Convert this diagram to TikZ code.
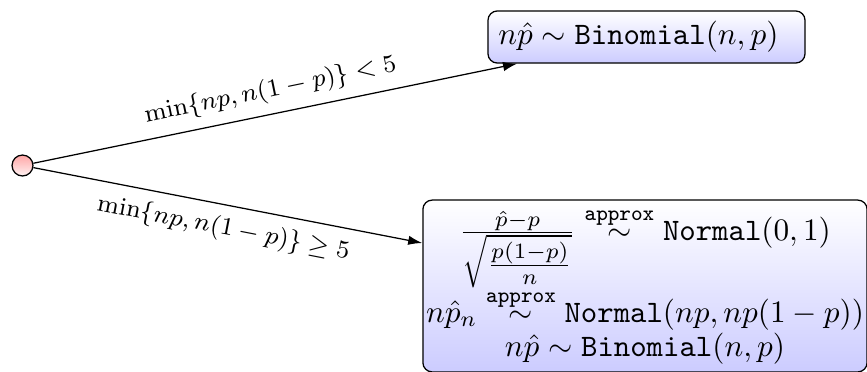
\documentclass[tikz,border=0pt]{standalone}
\usepackage{amsmath}
\usetikzlibrary{arrows.meta}
\begin{document}
\begin{tikzpicture}[x=0.32pt,y=-0.32pt,
  rootnode/.style={circle,draw,minimum size=6.7pt,inner sep=0pt,top color=red!35,bottom color=red!5},
  distbox/.style={draw,rounded corners=3pt,top color=white,bottom color=blue!20},
  branch/.style={-{Latex[length=4.5pt,width=3pt]}},
  edgelabel/.style={sloped,font=\fontsize{8.5}{10}\selectfont}]
\useasboundingbox (0,0) rectangle (867,371);
\node[rootnode] (root) at (22.5,165.5) {};
\node[distbox, text width=94.8pt, align=left, minimum height=16pt] (bin) at (646.5,37)
  {$n\hat{p}\sim\texttt{Binomial}(n,p)$};
\node[distbox, inner sep=1pt, minimum height=55pt, align=center] (norm) at (645,286)
  {$\frac{\hat{p}-p}{\sqrt{\textstyle\frac{p(1-p)}{n}}}\stackrel{\texttt{approx}}{\sim}\texttt{Normal}(0,1)$\\[-0.5pt]
   $n\hat{p}_n\stackrel{\texttt{approx}}{\sim}\texttt{Normal}(np,np(1-p))$\\[-1pt]
   $n\hat{p}\sim\texttt{Binomial}(n,p)$};
\draw[branch] (root) -- node[above,edgelabel]{$\min\{np,n(1-p)\}<5$} (bin);
\draw[branch] (root) -- node[below,edgelabel]{$\min\{np,n(1-p)\}\geq 5$} (norm);
\end{tikzpicture}
\end{document}
